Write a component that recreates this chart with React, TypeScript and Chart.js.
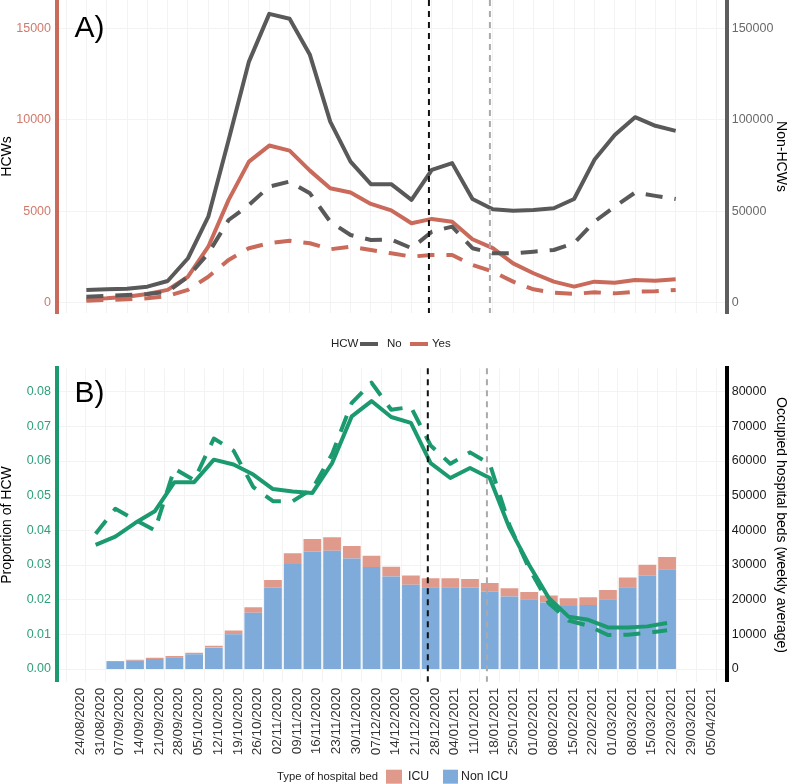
import React, { useEffect, useRef } from "react";
import { Chart, registerables } from "chart.js";
Chart.register(...registerables);

// ---------- data ----------
const xTickLabels = [
  "24/08/2020", "31/08/2020", "07/09/2020", "14/09/2020", "21/09/2020", "28/09/2020",
  "05/10/2020", "12/10/2020", "19/10/2020", "26/10/2020", "02/11/2020", "09/11/2020",
  "16/11/2020", "23/11/2020", "30/11/2020", "07/12/2020", "14/12/2020", "21/12/2020",
  "28/12/2020", "04/01/2021", "11/01/2021", "18/01/2021", "25/01/2021", "01/02/2021",
  "08/02/2021", "15/02/2021", "22/02/2021", "01/03/2021", "08/03/2021", "15/03/2021",
  "22/03/2021", "29/03/2021", "05/04/2021",
];
const lineDates = xTickLabels.slice(1, 31); // 31/08/2020 .. 22/03/2021
const barDates = xTickLabels.slice(2, 31); // 07/09/2020 .. 22/03/2021
const vlineDates = ["27/12/2020", "17/01/2021"];

// Panel A (HCW = Yes on left axis, HCW = No on right axis)
const hcwYesSolid = [200, 240, 330, 480, 700, 1420, 3060, 5620, 7710, 8590, 8310, 7220, 6260, 6020, 5400, 5050, 4340, 4580, 4430, 3470, 2980, 2150, 1610, 1150, 880, 1150, 1090, 1240, 1200, 1280];
const hcwYesDashed = [110, 150, 190, 240, 370, 700, 1420, 2340, 2980, 3250, 3390, 3250, 2920, 3060, 2880, 2700, 2520, 2610, 2610, 2060, 1700, 1150, 730, 550, 480, 570, 510, 600, 620, 700];
const hcwNoSolid = [6950, 7300, 7660, 8750, 11870, 24300, 47000, 89000, 131800, 157900, 155200, 135500, 99000, 77100, 64800, 64800, 56200, 72600, 76300, 56700, 51100, 50200, 50700, 51600, 56700, 78100, 91700, 101400, 96700, 93900];
const hcwNoDashed = [3280, 3660, 4210, 4760, 6020, 14200, 27000, 45200, 53400, 63500, 66200, 59800, 44300, 37000, 34300, 34500, 29800, 38800, 41600, 29800, 27000, 27000, 27900, 28800, 32500, 44300, 52500, 60200, 58400, 56700];

// Panel B
const propSolid = [0.0358, 0.0382, 0.0421, 0.0455, 0.0539, 0.0539, 0.0604, 0.0590, 0.0561, 0.0519, 0.0512, 0.0508, 0.0594, 0.0729, 0.0773, 0.0727, 0.0710, 0.0594, 0.0551, 0.0580, 0.0551, 0.0407, 0.0300, 0.0205, 0.0151, 0.0142, 0.0120, 0.0120, 0.0123, 0.0133];
const propDashed = [0.0390, 0.0462, 0.0431, 0.0400, 0.0578, 0.0545, 0.0665, 0.0630, 0.0525, 0.0484, 0.0484, 0.0520, 0.0620, 0.0768, 0.0826, 0.0748, 0.0756, 0.0645, 0.0592, 0.0625, 0.0592, 0.0415, 0.0290, 0.0190, 0.0140, 0.0125, 0.0098, 0.0099, 0.0104, 0.0112];
const bedsNonIcu = [2000, 2400, 2900, 3400, 4240, 6170, 10000, 16200, 23500, 30300, 33900, 34100, 31900, 29400, 26700, 24300, 23600, 23600, 23500, 22300, 20900, 20100, 19200, 18200, 18500, 20100, 23600, 26900, 28800];
const bedsIcu = [310, 300, 370, 360, 460, 570, 1080, 1650, 2200, 3100, 3600, 3900, 3600, 3300, 2800, 2700, 2600, 2600, 2500, 2500, 2400, 2100, 2000, 2200, 2200, 2700, 2800, 3200, 3500];

const hcwTicks = [0, 5000, 10000, 15000];
const nonHcwTicks = [0, 50000, 100000, 150000];
const propTicks = [0, 0.01, 0.02, 0.03, 0.04, 0.05, 0.06, 0.07, 0.08];
const bedTicks = [0, 10000, 20000, 30000, 40000, 50000, 60000, 70000, 80000];

// ---------- styles ----------
const FONT = "'Liberation Sans', Arial, Helvetica, sans-serif";
const GREY = "#595959";
const RED = "#C96A5B";
const GREEN = "#1B9A70";
const ICU_COL = "#E09A8B";
const NONICU_COL = "#7FABDA";
const GRID = "#f3f3f3";
const VLINE_COLORS = ["#111111", "#aaaaaa"];
const DASH = [17, 12];

const ORIGIN = Date.UTC(2020, 7, 24);
function weekIndex(d: string): number {
  const [dd, mm, yy] = d.split("/").map(Number);
  return (Date.UTC(yy, mm - 1, dd) - ORIGIN) / (7 * 86400000);
}
const pts = (dates: string[], vals: number[]) => vals.map((v, i) => ({ x: weekIndex(dates[i]), y: v }));

const X_MIN = -0.46;
const X_MAX = 32.5;
const LEFT_W = 56.7;
const RIGHT_W = 787 - 726.5;

const lineDs = (label: string, data: any, color: string, axis: string, dashed: boolean) => ({
  type: "line" as const,
  label,
  data,
  borderColor: color,
  backgroundColor: color,
  borderWidth: 4,
  borderDash: dashed ? DASH : [],
  borderCapStyle: "butt" as const,
  borderJoinStyle: "round" as const,
  pointRadius: 0,
  tension: 0,
  fill: false,
  yAxisID: axis,
  order: 0,
});

const vlinePlugin = {
  id: "vlines",
  afterDatasetsDraw(chart: any) {
    const { ctx, chartArea, scales } = chart;
    vlineDates.forEach((d, k) => {
      const px = scales.x.getPixelForValue(weekIndex(d));
      ctx.save();
      ctx.strokeStyle = VLINE_COLORS[k];
      ctx.lineWidth = 2;
      ctx.setLineDash([6, 5]);
      ctx.beginPath();
      ctx.moveTo(px, chartArea.top);
      ctx.lineTo(px, chartArea.bottom);
      ctx.stroke();
      ctx.restore();
    });
  },
};

const xScale = (showLabels: boolean, height: number) => ({
  type: "linear" as const,
  min: X_MIN,
  max: X_MAX,
  stacked: true,
  afterBuildTicks: (s: any) => {
    s.ticks = xTickLabels.map((l) => ({ value: weekIndex(l) }));
  },
  afterFit: (s: any) => {
    s.height = height;
  },
  grid: { color: GRID, lineWidth: 1, drawTicks: false },
  border: { display: false },
  ticks: {
    display: showLabels,
    autoSkip: false,
    minRotation: 90,
    maxRotation: 90,
    padding: 6,
    labelOffset: 4.3,
    color: "#333",
    font: { family: FONT, size: 13.5 },
    callback: (v: any) => xTickLabels[Math.round(Number(v))] ?? "",
  },
});

const yScale = (o: {
  pos: "left" | "right"; min: number; max: number; ticks: number[]; tickColor: string;
  border: string; title: string; grid: boolean; fmt: (v: number) => string; stacked?: boolean;
}) => ({
  type: "linear" as const,
  position: o.pos,
  min: o.min,
  max: o.max,
  stacked: !!o.stacked,
  afterBuildTicks: (s: any) => {
    s.ticks = o.ticks.map((v) => ({ value: v }));
  },
  afterFit: (s: any) => {
    s.width = o.pos === "left" ? LEFT_W : RIGHT_W;
  },
  grid: { display: o.grid, color: GRID, lineWidth: 1, drawTicks: false },
  border: { display: true, color: o.border, width: 4 },
  ticks: {
    padding: o.pos === "left" ? 5.7 : 5.2,
    color: o.tickColor,
    font: { family: FONT, size: 12.5 },
    callback: (v: any) => o.fmt(Number(v)),
  },
  title: {
    display: true,
    text: o.title,
    color: "#000",
    font: { family: FONT, size: 14, lineHeight: 1 },
    padding: { top: o.pos === "left" ? 0 : -0.5, bottom: 0 },
  },
});

export default function App() {
  const refA = useRef<HTMLCanvasElement>(null);
  const refB = useRef<HTMLCanvasElement>(null);

  useEffect(() => {
    Chart.defaults.font.family = FONT;

    const labelA = {
      id: "labelA",
      afterDraw(chart: any) {
        const ctx = chart.ctx;
        ctx.save();
        ctx.fillStyle = "#000";
        ctx.font = `30px ${FONT}`;
        ctx.textBaseline = "alphabetic";
        ctx.fillText("A)", 74.5, 36.7 + 20);
        ctx.restore();
      },
    };

    const a = new Chart(refA.current!, {
      type: "line",
      data: {
        datasets: [
          lineDs("No", pts(lineDates, hcwNoSolid), GREY, "y2", false),
          lineDs("No dashed", pts(lineDates, hcwNoDashed), GREY, "y2", true),
          lineDs("Yes", pts(lineDates, hcwYesSolid), RED, "y", false),
          lineDs("Yes dashed", pts(lineDates, hcwYesDashed), RED, "y", true),
        ] as any,
      },
      options: {
        responsive: false,
        animation: false,
        events: [],
        layout: { padding: { top: 20, left: 0, right: 0, bottom: 0 } },
        plugins: { legend: { display: false }, tooltip: { enabled: false } },
        scales: {
          x: xScale(false, 20) as any,
          y: yScale({
            pos: "left", min: -563, max: 16547, ticks: hcwTicks, tickColor: "#D07A6B",
            border: RED, title: "HCWs", grid: true, fmt: (v) => String(v),
          }) as any,
          y2: yScale({
            pos: "right", min: -5630, max: 165470, ticks: nonHcwTicks, tickColor: "#6a6a6a",
            border: "#5e5e5e", title: "Non-HCWs", grid: false, fmt: (v) => String(v),
          }) as any,
        },
      },
      plugins: [vlinePlugin, labelA],
    });

    const labelB = {
      id: "labelB",
      afterDraw(chart: any) {
        const ctx = chart.ctx;
        ctx.save();
        ctx.fillStyle = "#000";
        ctx.font = `30px ${FONT}`;
        ctx.textBaseline = "alphabetic";
        ctx.fillText("B)", 74.5, 401.7 - 330);
        // top legend (panel A)
        ctx.fillStyle = "#222";
        ctx.textBaseline = "middle";
        ctx.font = `11.5px ${FONT}`;
        const ly = 14;
        ctx.fillText("HCW", 331, ly);
        ctx.lineWidth = 4;
        ctx.strokeStyle = GREY;
        ctx.beginPath(); ctx.moveTo(360, ly); ctx.lineTo(378, ly); ctx.stroke();
        ctx.fillText("No", 387, ly);
        ctx.strokeStyle = RED;
        ctx.beginPath(); ctx.moveTo(410, ly); ctx.lineTo(428, ly); ctx.stroke();
        ctx.fillText("Yes", 432, ly);
        // bottom legend
        const by = 776.7 - 330;
        ctx.font = `11.3px ${FONT}`;
        ctx.fillText("Type of hospital bed", 277, by);
        ctx.fillStyle = ICU_COL;
        ctx.fillRect(386, by - 7, 16, 14);
        ctx.fillStyle = NONICU_COL;
        ctx.fillRect(443, by - 7, 15, 14);
        ctx.fillStyle = "#222";
        ctx.font = `12.3px ${FONT}`;
        ctx.fillText("ICU", 408, by);
        ctx.fillText("Non ICU", 461, by);
        ctx.restore();
      },
    };

    const barDs = (label: string, vals: number[], color: string) => ({
      type: "bar" as const,
      label,
      data: pts(barDates, vals),
      backgroundColor: color,
      borderWidth: 0,
      yAxisID: "y2",
      stack: "beds",
      barPercentage: 0.9,
      categoryPercentage: 1,
      order: 1,
    });

    const b = new Chart(refB.current!, {
      type: "bar",
      data: {
        datasets: [
          lineDs("Proportion", pts(lineDates, propSolid), GREEN, "y", false),
          lineDs("Proportion dashed", pts(lineDates, propDashed), GREEN, "y", true),
          barDs("Non ICU", bedsNonIcu, NONICU_COL),
          barDs("ICU", bedsIcu, ICU_COL),
        ] as any,
      },
      options: {
        responsive: false,
        animation: false,
        events: [],
        layout: { padding: { top: 38.3, left: 0, right: 0, bottom: 0 } },
        plugins: { legend: { display: false }, tooltip: { enabled: false } },
        scales: {
          x: xScale(true, 102.3) as any,
          y: yScale({
            pos: "left", min: -0.00366, max: 0.08675, ticks: propTicks, tickColor: "#2FA07C",
            border: GREEN, title: "Proportion of HCW", grid: true, fmt: (v) => v.toFixed(2),
          }) as any,
          y2: yScale({
            pos: "right", min: -3660, max: 86750, ticks: bedTicks, tickColor: "#1a1a1a",
            border: "#000", title: "Occupied hospital beds (weekly average)", grid: false,
            fmt: (v) => String(Math.round(v)), stacked: true,
          }) as any,
        },
      },
      plugins: [vlinePlugin, labelB],
    });

    return () => {
      a.destroy();
      b.destroy();
    };
  }, []);

  return (
    <div style={{ position: "fixed", left: 0, top: 0, width: 787, height: 784, background: "#fff", overflow: "hidden" }}>
      <canvas ref={refA} width={787} height={353} style={{ position: "absolute", left: 0, top: -20, width: 787, height: 353 }} />
      <canvas ref={refB} width={787} height={454} style={{ position: "absolute", left: 0, top: 330, width: 787, height: 454 }} />
    </div>
  );
}
